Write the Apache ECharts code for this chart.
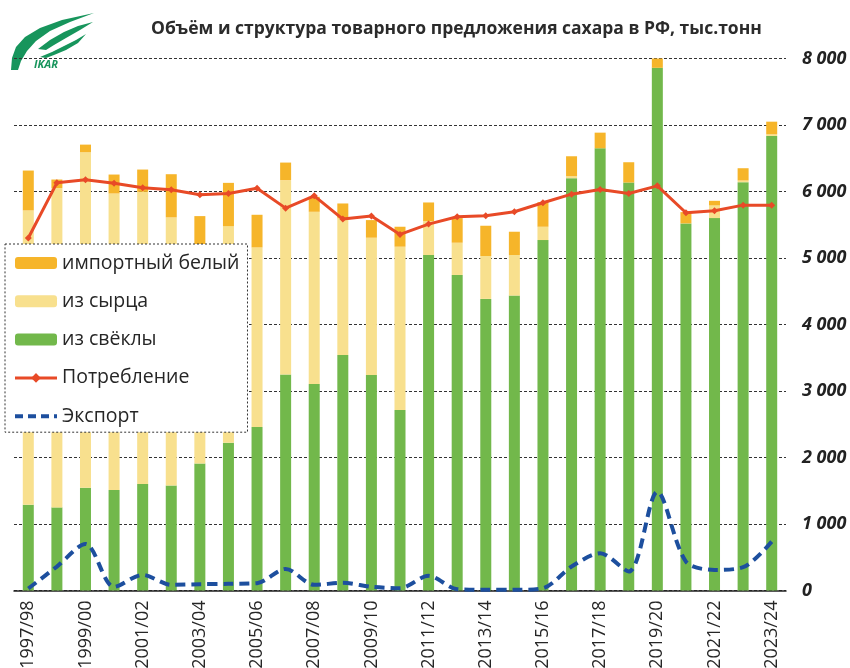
<!DOCTYPE html>
<html>
<head>
<meta charset="utf-8">
<script src="https://cdn.jsdelivr.net/npm/echarts@6/dist/echarts.min.js"></script>
<style>
  html, body { margin: 0; padding: 0; background: #fff; }
  #chart { width: 850px; height: 668px; }
</style>
</head>
<body>
<div id="chart"></div>
<script>
// ── Data (тыс. тонн) ─────────────────────────────────────────────────────
const seasons = ['1997/98','1998/99','1999/00','2000/01','2001/02','2002/03','2003/04','2004/05',
  '2005/06','2006/07','2007/08','2008/09','2009/10','2010/11','2011/12','2012/13','2013/14',
  '2014/15','2015/16','2016/17','2017/18','2018/19','2019/20','2020/21','2021/22','2022/23','2023/24'];

const fromBeet = [1290,1250,1545,1510,1600,1580,1910,2220,2460,3250,3105,3540,3240,2715,5045,
  4745,4385,4435,5270,6200,6650,6135,7860,5520,5600,6140,6835];
const fromRaw = [4425,4800,5045,4460,4395,4030,3240,3260,2700,2920,2590,2055,2065,2455,510,
  485,645,610,200,30,0,0,0,0,190,25,25];
const importWhite = [600,130,115,285,335,650,480,650,490,265,225,225,265,300,280,
  370,455,350,370,300,235,305,180,170,70,185,190];
const consumption = [5300,6130,6175,6125,6055,6025,5950,5970,6050,5750,5935,5585,5630,5355,5510,
  5620,5635,5695,5830,5960,6030,5970,6085,5680,5710,5795,5795];
const exportVol = [30,360,700,55,235,85,95,100,110,325,85,115,55,35,220,
  20,10,10,35,360,560,285,1485,435,310,350,735];

const yTicks = [0,1000,2000,3000,4000,5000,6000,7000,8000];

// ── Styling ──────────────────────────────────────────────────────────────
const FONT = '"Open Sans", "Noto Sans", sans-serif';
const C_BEET = '#72b84b';
const C_RAW = '#f8e08e';
const C_IMPORT = '#f6b52a';
const C_CONS = '#e84a27';
const C_EXPORT = '#1d4f9e';
const LOGO = '#17955c';

const fmtThousands = (v) => String(v).replace(/\B(?=(\d{3})+(?!\d))/g, ' ');

// logo feathers, rough outline only
const feather = (pts) => ({ type: 'polygon', shape: { points: pts }, style: { fill: LOGO } });

const chart = echarts.init(document.getElementById('chart'), null, { renderer: 'canvas' });

chart.setOption({
  animation: false,
  backgroundColor: '#fff',
  textStyle: { fontFamily: FONT },
  title: {
    text: 'Объём и структура товарного предложения сахара в РФ, тыс.тонн',
    left: 146, top: 15,
    textStyle: { fontFamily: FONT, fontSize: 17.5, fontWeight: 'bold', color: '#2b2b2b' }
  },
  graphic: [
    feather([[11,70],[12,58],[16,47],[25,37],[40,28],[62,20],[94,13],[70,22],[50,31],[36,41],[27,51],[21,61],[18,70]]),
    feather([[38,49],[50,40],[64,32],[78,26],[93,22],[80,30],[66,38],[54,45],[46,50]]),
    feather([[40,57],[52,52],[64,46],[76,40],[86,34],[78,43],[66,50],[54,55],[46,58]]),
    { type: 'text', left: 34, top: 59,
      style: { text: 'IKAR', fill: LOGO, font: 'italic bold 11px ' + FONT } }
  ],
  legend: {
    orient: 'vertical',
    left: 5, top: 244,
    padding: [9, 8, 6, 8],
    backgroundColor: '#fff',
    borderColor: '#333',
    borderWidth: 1,
    borderType: [2, 2],
    itemWidth: 42, itemHeight: 12, itemGap: 18.3,
    textStyle: { fontFamily: FONT, fontSize: 19.5, color: '#262626' },
    data: [
      'импортный белый', 'из сырца', 'из свёклы',
      { name: 'Потребление', lineStyle: { width: 3 } },
      { name: 'Экспорт', itemStyle: { opacity: 0 }, lineStyle: { width: 4, type: [8, 5] } }
    ]
  },
  grid: { left: 14, right: 64, top: 58.5, bottom: 77.5, outerBoundsMode: 'none' },
  xAxis: {
    type: 'category',
    data: seasons,
    boundaryGap: true,
    axisLine: { lineStyle: { color: '#222', width: 1.5 } },
    axisTick: { interval: 0, length: 7, lineStyle: { color: '#222', width: 1.5 } },
    axisLabel: { interval: 1, rotate: 90, fontFamily: FONT, fontSize: 18, color: '#262626', margin: 10 },
    splitLine: { show: false }
  },
  yAxis: {
    type: 'value',
    position: 'right',
    min: yTicks[0], max: yTicks[yTicks.length - 1], interval: 1000,
    axisLine: { show: false },
    axisTick: { show: false },
    axisLabel: {
      margin: 16,
      fontFamily: FONT, fontSize: 18, fontStyle: 'italic', fontWeight: 'bold', color: '#222',
      formatter: fmtThousands
    },
    splitLine: { lineStyle: { color: '#333', type: [3, 2], width: 1 } }
  },
  series: [
    { name: 'из свёклы', type: 'bar', stack: 'supply', data: fromBeet, barWidth: 11,
      itemStyle: { color: C_BEET } },
    { name: 'из сырца', type: 'bar', stack: 'supply', data: fromRaw, barWidth: 11,
      itemStyle: { color: C_RAW } },
    { name: 'импортный белый', type: 'bar', stack: 'supply', data: importWhite, barWidth: 11,
      itemStyle: { color: C_IMPORT } },
    { name: 'Потребление', type: 'line', data: consumption, z: 4,
      symbol: 'diamond', symbolSize: 7,
      lineStyle: { color: C_CONS, width: 3 },
      itemStyle: { color: C_CONS } },
    { name: 'Экспорт', type: 'line', data: exportVol, z: 4,
      smooth: 0.3, symbol: 'none',
      lineStyle: { color: C_EXPORT, width: 4, type: [10, 6] },
      itemStyle: { color: C_EXPORT } }
  ]
});
</script>
</body>
</html>
